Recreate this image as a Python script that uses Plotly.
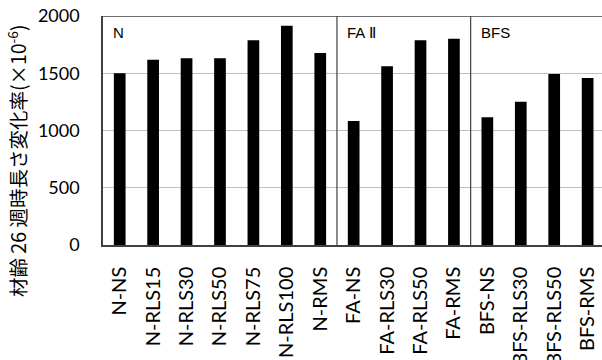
import plotly.graph_objects as go

categories = ["N-NS", "N-RLS15", "N-RLS30", "N-RLS50", "N-RLS75", "N-RLS100", "N-RMS",
              "FA-NS", "FA-RLS30", "FA-RLS50", "FA-RMS",
              "BFS-NS", "BFS-RLS30", "BFS-RLS50", "BFS-RMS"]
values = [1500, 1618, 1630, 1630, 1788, 1915, 1677,
          1083, 1561, 1788, 1802,
          1115, 1252, 1493, 1459]
group_labels = ["N", "FA Ⅱ", "BFS"]
group_label_pos = [0, 7, 11]
y_ticks = [0, 500, 1000, 1500, 2000]
y_title = "材齢 26 週時長さ変化率(×10<sup>-6</sup>)"

W, H = 602, 360
L, R, T, B = 103, 0, 16, 115

fig = go.Figure(go.Bar(x=categories, y=values, marker_color="black",
                       marker_line_width=0))

frame = "#404040"
fig.update_layout(
    width=W, height=H,
    margin=dict(l=L, r=R, t=T, b=B, autoexpand=False),
    plot_bgcolor="white", paper_bgcolor="white",
    bargap=0.65,
    showlegend=False,
    font=dict(family="Lato, Liberation Sans, sans-serif", size=18, color="black"),
)
fig.update_xaxes(type="category", range=[-0.5, 14.43], showline=True, linecolor=frame,
                 linewidth=1.5, tickangle=-90, ticks="", showgrid=False, automargin=False,
                 ticklabelstandoff=12, tickfont=dict(size=20))
fig.update_yaxes(range=[0, 2000], tickvals=y_ticks, showline=True, linecolor=frame,
                 linewidth=1.5, showgrid=True, gridcolor="#BFBFBF", gridwidth=1,
                 automargin=False,
                 ticks="", ticklabelstandoff=18, zeroline=False, tickfont=dict(size=18))

# top border
fig.add_shape(type="line", xref="paper", yref="y", x0=0, x1=1, y0=2000, y1=2000,
              line=dict(color=frame, width=1.5))
# group dividers
for b in [6.5, 10.5]:
    fig.add_shape(type="line", xref="x", yref="y", x0=b, x1=b, y0=0, y1=2000,
                  line=dict(color=frame, width=1.2))

for lab, pos in zip(group_labels, group_label_pos):
    fig.add_annotation(x=pos - 0.5, y=1855, xref="x", yref="y", text=lab,
                       showarrow=False, xanchor="left", yanchor="middle", xshift=8,
                       font=dict(family="Liberation Sans, Arial, sans-serif", size=15))

fig.add_annotation(xref="paper", yref="paper", x=(17 - L) / (W - L - R),
                   y=(H - B - 161) / (H - T - B), text=y_title, textangle=-90,
                   showarrow=False, xanchor="center", yanchor="middle",
                   font=dict(family="Noto Sans CJK JP", size=19.5))

fig.write_html("out.html", config={"displayModeBar": False},
               post_script="document.body.style.margin='0';")
